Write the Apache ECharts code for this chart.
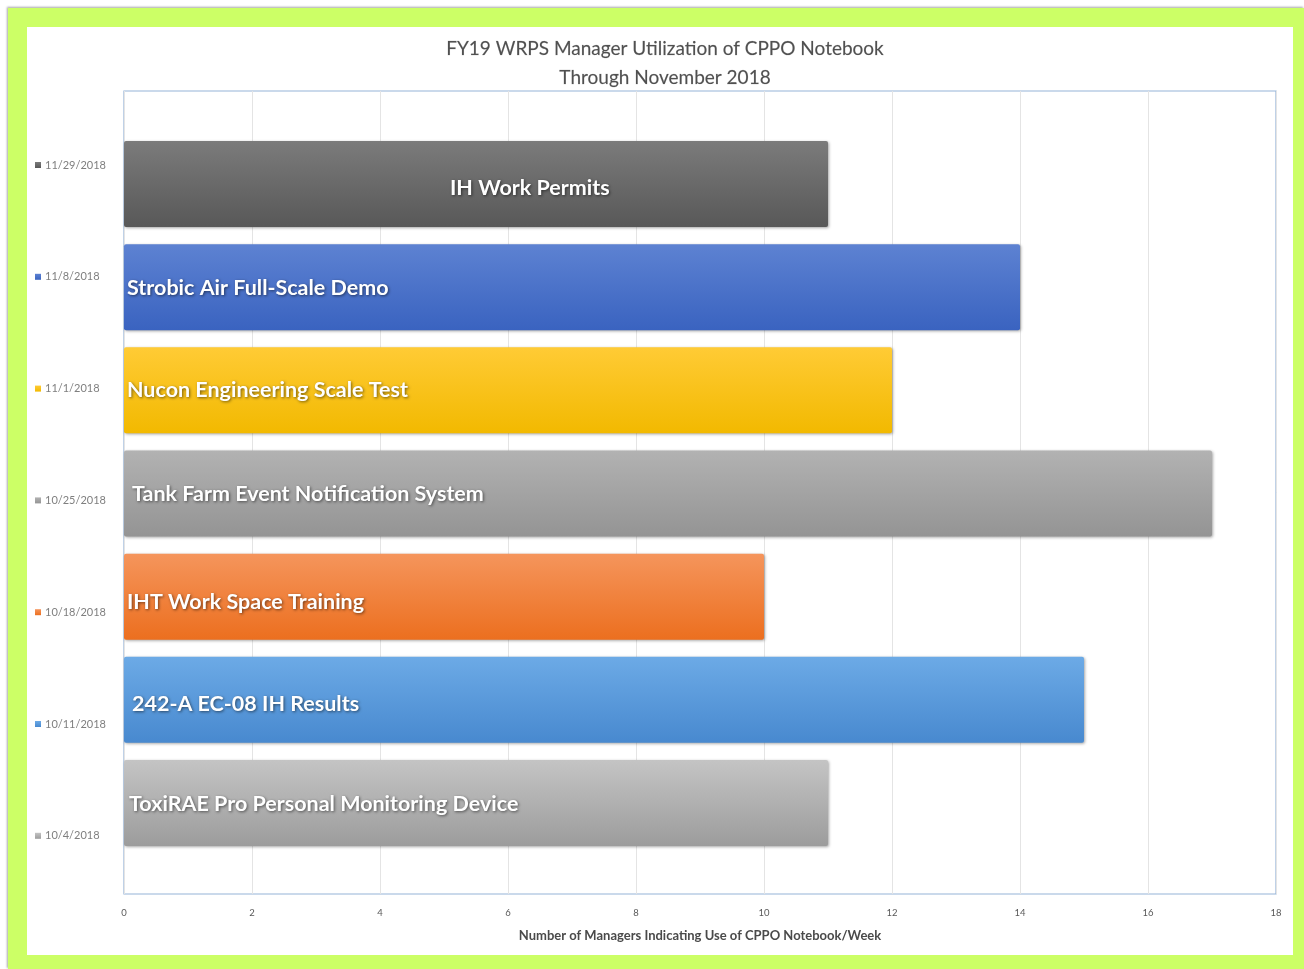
<!DOCTYPE html>
<html>
<head>
<meta charset="utf-8">
<script src="https://cdn.jsdelivr.net/npm/echarts@6/dist/echarts.min.js"></script>
<style>
  html, body { margin: 0; padding: 0; width: 1304px; height: 969px; background: #ffffff; overflow: hidden; }
  #frame { position: absolute; left: 8px; top: 8px; width: 1296px; height: 961px; background: #ccff66;
           box-shadow: -1px -1px 2px rgba(0,0,0,0.35); }
  #inner { position: absolute; left: 27px; top: 27px; width: 1266px; height: 928px; background: #ffffff; }
  #chart { position: absolute; left: 0; top: 0; width: 1304px; height: 969px; }
</style>
</head>
<body>
<div id="frame"></div>
<div id="inner"></div>
<div id="chart"></div>
<script>
// ---- data ----
const titleLines = ['FY19 WRPS Manager Utilization of CPPO Notebook', 'Through November 2018'];
const xAxisName = 'Number of Managers Indicating Use of CPPO Notebook/Week';
const weeks = ['11/29/2018', '11/8/2018', '11/1/2018', '10/25/2018', '10/18/2018', '10/11/2018', '10/4/2018'];
const topics = ['IH Work Permits', 'Strobic Air Full-Scale Demo', 'Nucon Engineering Scale Test',
                'Tank Farm Event Notification System', 'IHT Work Space Training', '242-A EC-08 IH Results',
                'ToxiRAE Pro Personal Monitoring Device'];
const managers = [11, 14, 12, 17, 10, 15, 11];

// ---- styles ----
const barStyles = [
  { top: '#7b7b7b', bottom: '#585858', pad: 326, dy: 4 },
  { top: '#5d82d2', bottom: '#3a63c0', pad: 3, dy: 1 },
  { top: '#ffcb35', bottom: '#f2b900', pad: 3, dy: 0 },
  { top: '#b2b2b2', bottom: '#949494', pad: 8, dy: 1 },
  { top: '#f5955c', bottom: '#ec6f1f', pad: 3, dy: 5 },
  { top: '#6caae6', bottom: '#4889cf', pad: 8, dy: 4 },
  { top: '#c4c4c4', bottom: '#9c9c9c', pad: 5, dy: 1 }
];
const FONT = 'Lato, "Liberation Sans", sans-serif';

const chart = echarts.init(document.getElementById('chart'), null, { renderer: 'canvas' });

const series = weeks.map((w, i) => ({
  name: w,
  type: 'bar',
  stack: 'weeks',
  xAxisIndex: 1,
  yAxisIndex: 1,
  barWidth: 86,
  data: weeks.map((_, j) => (j === i ? managers[i] : '-')),
  itemStyle: {
    color: new echarts.graphic.LinearGradient(0, 0, 0, 1, [
      { offset: 0, color: barStyles[i].top },
      { offset: 1, color: barStyles[i].bottom }
    ]),
    borderRadius: 2,
    shadowColor: 'rgba(0,0,0,0.35)',
    shadowBlur: 3,
    shadowOffsetX: 1,
    shadowOffsetY: 1
  },
  label: {
    show: true,
    position: 'insideLeft',
    distance: barStyles[i].pad,
    offset: [0, barStyles[i].dy],
    formatter: () => topics[i],
    color: '#ffffff',
    fontFamily: FONT,
    fontWeight: 'bold',
    fontSize: 21.5,
    textShadowColor: 'rgba(0,0,0,0.55)',
    textShadowBlur: 3,
    textShadowOffsetX: 1,
    textShadowOffsetY: 1
  },
  emphasis: { disabled: true }
}));

// frame-only series so the outer grid renders
series.push({ type: 'scatter', xAxisIndex: 0, yAxisIndex: 0, data: [], silent: true });

const option = {
  backgroundColor: 'transparent',
  animation: false,
  title: {
    text: titleLines.join('\n'),
    left: 660,
    top: 29,
    textAlign: 'center',
    textStyle: { fontFamily: FONT, fontSize: 19, fontWeight: 'normal', color: '#505050', lineHeight: 29,
                 textBorderColor: 'rgba(80,80,80,0.35)', textBorderWidth: 0.4 }
  },
  legend: {
    data: weeks,
    orient: 'vertical',
    left: 35,
    top: 158,
    padding: 0,
    icon: 'rect',
    itemWidth: 6,
    itemHeight: 6,
    itemGap: 97.8,
    selectedMode: false,
    textStyle: { fontFamily: FONT, fontSize: 11, color: '#7f7f7f', lineHeight: 14, padding: [0, 0, 0, -1] }
  },
  grid: [
    { left: 124, right: 28, top: 91, bottom: 75, show: true, borderColor: '#95b3d7', borderWidth: 1.2,
      backgroundColor: 'transparent', containLabel: false },
    { left: 124, right: 28, top: 132.4, bottom: 114.4, containLabel: false }
  ],
  xAxis: [
    {
      type: 'value', gridIndex: 0, min: 0, max: 18, interval: 2,
      name: xAxisName, nameLocation: 'middle', nameGap: 35,
      nameTextStyle: { fontFamily: FONT, fontSize: 13, fontWeight: 'bold', color: '#4a4a4a' },
      axisLine: { show: false }, axisTick: { show: false },
      axisLabel: { fontFamily: FONT, fontSize: 9.5, color: '#595959', margin: 14 },
      splitLine: { show: true, lineStyle: { color: '#e4e4e4', width: 1 } }
    },
    {
      type: 'value', gridIndex: 1, min: 0, max: 18, interval: 2, show: false,
      splitLine: { show: false }
    }
  ],
  yAxis: [
    { type: 'value', gridIndex: 0, min: 0, max: 1, show: false, splitLine: { show: false } },
    {
      type: 'category', gridIndex: 1, data: weeks, inverse: true,
      axisLine: { show: false }, axisTick: { show: false }, axisLabel: { show: false },
      splitLine: { show: false }
    }
  ],
  series: series
};

chart.setOption(option);
</script>
</body>
</html>
